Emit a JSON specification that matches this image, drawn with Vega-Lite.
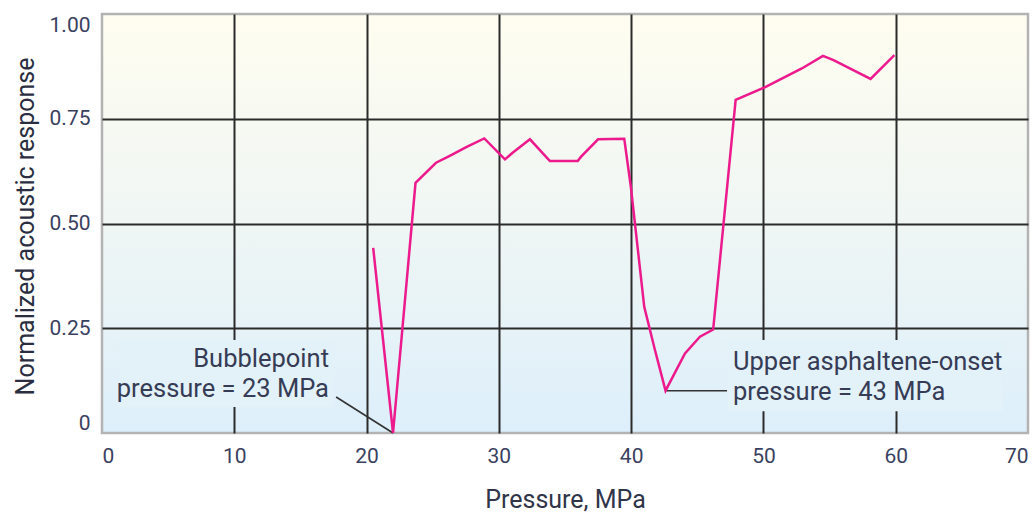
{
  "$schema": "https://vega.github.io/schema/vega-lite/v6.json",
  "width": 926,
  "height": 419,
  "autosize": {"type": "none"},
  "padding": {"left": 102, "top": 14, "right": 6, "bottom": 81},
  "background": "white",
  "config": {
    "font": "Roboto, DejaVu Sans Condensed, sans-serif",
    "view": {
      "stroke": "#b3b3b3",
      "strokeWidth": 2.5,
      "fill": {
        "gradient": "linear",
        "x1": 0, "y1": 0, "x2": 0, "y2": 1,
        "stops": [
          {"offset": 0, "color": "#fffdf0"},
          {"offset": 0.5, "color": "#eff6f4"},
          {"offset": 1, "color": "#ddeffb"}
        ]
      }
    }
  },
  "datasets": {
    "curve": [
      {"p": 20.5, "r": 0.442},
      {"p": 22.0, "r": 0.0},
      {"p": 23.7, "r": 0.597},
      {"p": 25.25, "r": 0.645},
      {"p": 26.25, "r": 0.661},
      {"p": 27.57, "r": 0.683},
      {"p": 28.9, "r": 0.703},
      {"p": 30.46, "r": 0.653},
      {"p": 31.04, "r": 0.669},
      {"p": 32.35, "r": 0.701},
      {"p": 33.86, "r": 0.649},
      {"p": 35.96, "r": 0.649},
      {"p": 36.2, "r": 0.659},
      {"p": 37.5, "r": 0.701},
      {"p": 39.48, "r": 0.702},
      {"p": 39.98, "r": 0.587},
      {"p": 40.99, "r": 0.301},
      {"p": 41.8, "r": 0.198},
      {"p": 42.6, "r": 0.101},
      {"p": 44.07, "r": 0.19},
      {"p": 45.2, "r": 0.23},
      {"p": 46.2, "r": 0.247},
      {"p": 47.9, "r": 0.795},
      {"p": 50.1, "r": 0.825},
      {"p": 52.9, "r": 0.87},
      {"p": 54.5, "r": 0.9},
      {"p": 55.3, "r": 0.89},
      {"p": 58.1, "r": 0.845},
      {"p": 59.9, "r": 0.902}
    ],
    "callouts": [
      {"name": "bubblepoint", "p": 17.7, "r": 0.086, "targetP": 22.0, "targetR": 0.0, "boxP": 1.3, "boxP2": 17.5, "boxR": 0.062, "boxR2": 0.222},
      {"name": "onset", "p": 47.25, "r": 0.101, "targetP": 42.6, "targetR": 0.101, "boxP": 47.3, "boxP2": 68.1, "boxR": 0.052, "boxR2": 0.222}
    ],
    "notesRight": [
      {"p": 17.16, "r": 0.158, "label": "Bubblepoint\npressure = 23 MPa"}
    ],
    "notesLeft": [
      {"p": 47.7, "r": 0.15, "label": "Upper asphaltene-onset\npressure = 43 MPa"}
    ]
  },
  "encoding": {
    "x": {
      "field": "p",
      "type": "quantitative",
      "scale": {"domain": [0, 70], "nice": false, "zero": false},
      "axis": {
        "title": "Pressure, MPa",
        "values": [0, 10, 20, 30, 40, 50, 60, 70],
        "ticks": false,
        "domain": false,
        "labelFlush": true,
        "labelPadding": 12,
        "labelFontSize": 21,
        "labelColor": "#3a4160",
        "titleFontSize": 25,
        "titleFontWeight": "normal",
        "titleColor": "#30354a",
        "titleY": 74,
        "titleBaseline": "alphabetic",
        "grid": true,
        "gridColor": "#2b2b2b",
        "gridWidth": 2,
        "gridOpacity": {"condition": {"test": "datum.value == 0 || datum.value == 70", "value": 0}, "value": 1}
      }
    },
    "y": {
      "field": "r",
      "type": "quantitative",
      "scale": {"domain": [0, 1], "nice": false},
      "axis": {
        "title": "Normalized acoustic response",
        "values": [0, 0.25, 0.5, 0.75, 1],
        "labelExpr": "datum.value == 0 ? '0' : format(datum.value, '.2f')",
        "ticks": false,
        "domain": false,
        "labelFlush": true,
        "labelPadding": 12,
        "labelFontSize": 21,
        "labelColor": "#3a4160",
        "titleFontSize": 25,
        "titleFontWeight": "normal",
        "titleColor": "#2a2e40",
        "titleX": -69,
        "titleY": 212,
        "titleBaseline": "alphabetic",
        "grid": true,
        "gridColor": "#2b2b2b",
        "gridWidth": 2,
        "gridOpacity": {"condition": {"test": "datum.value == 0 || datum.value == 1", "value": 0}, "value": 1}
      }
    }
  },
  "layer": [
    {
      "data": {"name": "callouts"},
      "mark": {"type": "rect", "fill": "#e3f1f9"},
      "encoding": {
        "x": {"field": "boxP", "type": "quantitative"},
        "x2": {"field": "boxP2"},
        "y": {"field": "boxR", "type": "quantitative"},
        "y2": {"field": "boxR2"}
      }
    },
    {
      "data": {"name": "callouts"},
      "mark": {"type": "rule", "color": "#333333", "strokeWidth": 1.6},
      "encoding": {
        "x2": {"field": "targetP"},
        "y2": {"field": "targetR"}
      }
    },
    {
      "data": {"name": "curve"},
      "mark": {"type": "line", "color": "#ec1a8c", "strokeWidth": 2.5, "strokeJoin": "miter"}
    },
    {
      "data": {"name": "notesRight"},
      "mark": {"type": "text", "align": "right", "baseline": "alphabetic", "fontSize": 25.5, "lineHeight": 30, "lineBreak": "\n", "color": "#363c55"},
      "encoding": {"text": {"field": "label"}}
    },
    {
      "data": {"name": "notesLeft"},
      "mark": {"type": "text", "align": "left", "baseline": "alphabetic", "fontSize": 25.5, "lineHeight": 30, "lineBreak": "\n", "color": "#363c55"},
      "encoding": {"text": {"field": "label"}}
    }
  ]
}
